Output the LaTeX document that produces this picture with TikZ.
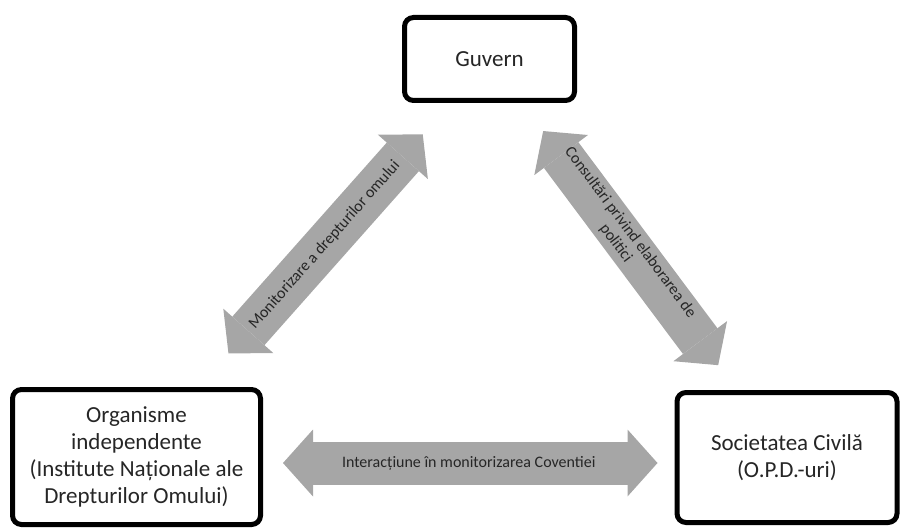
\documentclass[tikz,border=0pt]{standalone}
\usepackage{fontspec}
\setmainfont{Carlito}
\usepackage{tikz}
\usetikzlibrary{arrows.meta,shadows}
\usepackage{xcolor}
\definecolor{arrowgray}{RGB}{166,166,166}
\definecolor{textgray}{RGB}{38,38,38}

\begin{document}
\begin{tikzpicture}[x=1pt,y=-1pt,
  actor/.style={draw,line width=5pt,rounded corners=9pt,fill=white,align=center,text=textgray,
    font=\fontsize{23}{27}\selectfont,inner sep=0pt,
    drop shadow={shadow xshift=2pt,shadow yshift=-2pt,opacity=0.35}},
  link/.style={arrowgray,line width=43pt,
    {Triangle[length=30pt,width=67pt,line width=0pt]}-{Triangle[length=30pt,width=67pt,line width=0pt]}},
  linklabel/.style={sloped,text=textgray,font=\fontsize{16}{18}\selectfont,align=center}]
\useasboundingbox (0,0) rectangle (903,532);
\node[actor,minimum width=170pt,minimum height=83pt] (guv) at (489.5,59) {Guvern};
\node[actor,minimum width=248pt,minimum height=135pt] (org) at (136.5,457)
  {Organisme\\independente\\(Institute Naționale ale\\Drepturilor Omului)};
\node[actor,minimum width=220pt,minimum height=130pt] (soc) at (787,457.5)
  {Societatea Civilă\\(O.P.D.-uri)};
\draw[link,shorten <=45pt,shorten >=42pt] (org) -- node[linklabel] {Monitorizare a drepturilor omului} (guv);
\draw[link,shorten <=35pt,shorten >=31pt] (guv) -- node[linklabel,pos=0.47] {Consultări privind elaborarea de\\politici} (soc);
\draw[link,shorten <=20pt,shorten >=17pt] ([yshift=-6pt]org.east) -- node[linklabel] {Interacțiune în monitorizarea Coventiei} ([yshift=-6pt]org.east -| soc.west);
\end{tikzpicture}
\end{document}
